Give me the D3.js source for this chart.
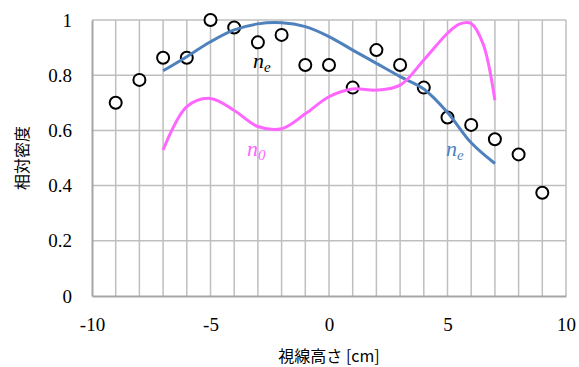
<!DOCTYPE html>
<html>
<head>
<meta charset="utf-8">
<script src="https://cdn.jsdelivr.net/npm/d3@7"></script>
<style>
  body { margin: 0; background: #fff; }
  svg { display: block; }
  .serif { font-family: "Liberation Serif", "DejaVu Serif", serif; }
</style>
</head>
<body>
<div id="chart"></div>
<script>
// measured points (circles)
const ptX = [-9, -8, -7, -6, -5, -4, -3, -2, -1, 0, 1, 2, 3, 4, 5, 6, 7, 8, 9];
const ptY = [0.700, 0.783, 0.863, 0.863, 1.0, 0.973, 0.919, 0.946, 0.837, 0.837,
             0.755, 0.891, 0.837, 0.755, 0.647, 0.620, 0.568, 0.513, 0.374];

// smoothed curves
const neX = [-7, -6, -5, -4, -3, -2, -1, 0, 1, 2, 3, 4, 5, 6, 7];
const neY = [0.816, 0.867, 0.921, 0.964, 0.986, 0.990, 0.976, 0.940, 0.891, 0.843,
             0.795, 0.750, 0.665, 0.555, 0.480];
const n0X = [-7, -6, -5, -4, -3, -2, -1, 0, 1, 2, 3, 4, 5, 5.5, 6, 6.5, 7];
const n0Y = [0.529, 0.686, 0.716, 0.672, 0.614, 0.606, 0.660, 0.722, 0.750, 0.746,
             0.764, 0.855, 0.952, 0.985, 0.987, 0.914, 0.709];

const xTicks = [-10, -5, 0, 5, 10];
const yTicks = [0, 0.2, 0.4, 0.6, 0.8, 1];

const width = 579, height = 367;
const margin = {top: 20, right: 13, bottom: 71, left: 92};

const svg = d3.select("#chart")
  .append("svg")
  .attr("width", width)
  .attr("height", height);

const x = d3.scaleLinear()
  .domain([-10, 10])
  .range([margin.left, width - margin.right]);

const y = d3.scaleLinear()
  .domain([0, 1])
  .range([height - margin.bottom, margin.top]);

// grid
svg.append("g")
  .selectAll("line")
  .data(d3.range(-9, 11))
  .enter()
  .append("line")
    .attr("x1", d => x(d)).attr("x2", d => x(d))
    .attr("y1", y(0)).attr("y2", y(1))
    .attr("stroke", "#bfbfbf")
    .attr("stroke-width", 1.5);

svg.append("g")
  .selectAll("line")
  .data(yTicks.slice(1))
  .enter()
  .append("line")
    .attr("x1", x(-10)).attr("x2", x(10))
    .attr("y1", d => y(d)).attr("y2", d => y(d))
    .attr("stroke", "#bfbfbf")
    .attr("stroke-width", 1.5);

// axes
const yAxis = svg.append("g")
  .attr("transform", `translate(${margin.left},0)`)
  .call(d3.axisLeft(y).tickValues(yTicks).tickSize(0).tickPadding(20)
    .tickFormat(d => String(+d.toFixed(1))));

const xAxis = svg.append("g")
  .attr("transform", `translate(0,${height - margin.bottom})`)
  .call(d3.axisBottom(x).tickValues(xTicks).tickSize(0).tickPadding(22)
    .tickFormat(d => String(d)));

[xAxis, yAxis].forEach(a => {
  a.attr("font-family", null).attr("font-size", null);
  a.select(".domain").attr("stroke", "#a6a6a6").attr("stroke-width", 2);
  a.selectAll("text")
    .attr("class", "serif")
    .style("font-size", "19px")
    .attr("fill", "#000");
});

// points
svg.append("g")
  .selectAll("circle")
  .data(ptX)
  .enter()
  .append("circle")
    .attr("cx", (d) => x(d))
    .attr("cy", (d, i) => y(ptY[i]))
    .attr("r", 6)
    .attr("fill", "#fff")
    .attr("stroke", "#000")
    .attr("stroke-width", 2);

// curves
const line = d3.line()
  .x(d => x(d[0]))
  .y(d => y(d[1]))
  .curve(d3.curveCatmullRom.alpha(0.5));

svg.append("path")
  .datum(neX.map((v, i) => [v, neY[i]]))
  .attr("d", line)
  .attr("fill", "none")
  .attr("stroke", "#4f81bd")
  .attr("stroke-width", 3);

svg.append("path")
  .datum(n0X.map((v, i) => [v, n0Y[i]]))
  .attr("d", line)
  .attr("fill", "none")
  .attr("stroke", "#ff66ff")
  .attr("stroke-width", 3);

// curve labels
function mathLabel(px, py, sub, color) {
  const t = svg.append("text")
    .attr("x", px).attr("y", py)
    .attr("fill", color)
    .attr("class", "serif")
    .style("font-style", "italic")
    .style("font-size", "22px");
  t.append("tspan").text("n");
  t.append("tspan").attr("dy", 4).style("font-size", "15px").text(sub);
}
mathLabel(253, 68, "e", "#000");
mathLabel(446, 156, "e", "#4f81bd");
mathLabel(247, 156, "0", "#ff66ff");

// axis titles
svg.append("text")
  .attr("x", x(0))
  .attr("y", 362)
  .attr("text-anchor", "middle")
  .style("font-family", "'Noto Sans CJK JP', sans-serif")
  .style("font-size", "16px")
  .text("視線高さ [cm]");

svg.append("text")
  .attr("transform", `translate(28,${y(0.5)}) rotate(-90)`)
  .attr("text-anchor", "middle")
  .style("font-family", "'Noto Sans CJK JP', sans-serif")
  .style("font-size", "16px")
  .text("相対密度");
</script>
</body>
</html>
